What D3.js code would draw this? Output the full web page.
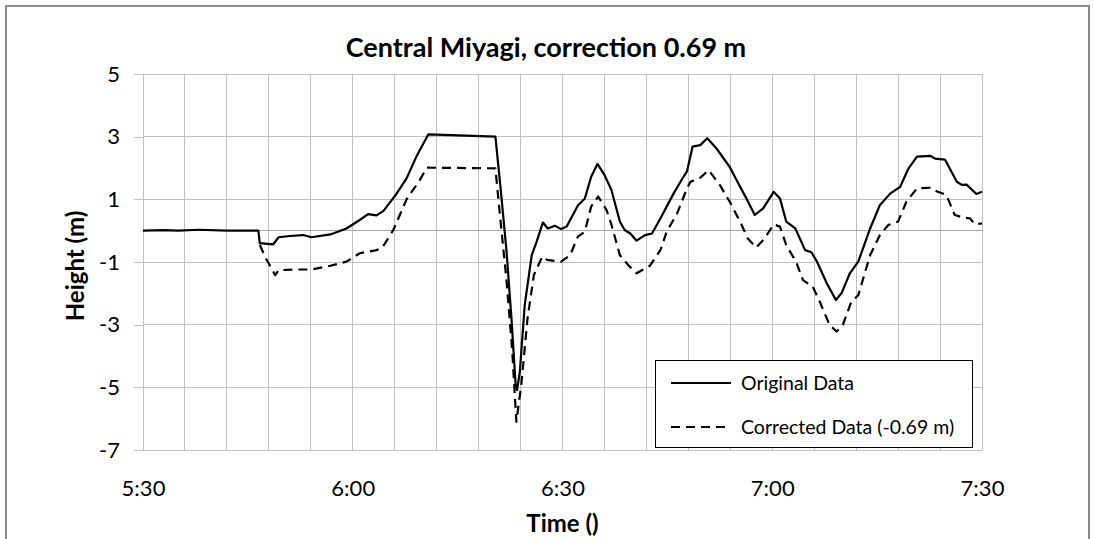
<!DOCTYPE html>
<html>
<head>
<meta charset="utf-8">
<script src="https://cdn.jsdelivr.net/npm/d3@7"></script>
<style>
  html, body { margin: 0; padding: 0; background: #fff; }
  svg { display: block; }
  text { font-family: Lato, "Open Sans", sans-serif; fill: #000; }
</style>
</head>
<body>
<svg id="chart" width="1094" height="539"></svg>
<script>
// ---- data (minutes after 5:30, height in m) ----
const chartTitle = "Central Miyagi, correction 0.69 m";
const xTitle = "Time ()";
const yTitle = "Height (m)";
const seriesNames = ["Original Data", "Corrected Data (-0.69 m)"];

const xTickMinutes = [0, 30, 60, 90, 120];
const xTickLabels = ["5:30", "6:00", "6:30", "7:00", "7:30"];
const yTickValues = [5, 3, 1, -1, -3, -5, -7];

const originalMinutes = [0, 3, 5, 8, 12, 16.5, 16.7, 18.6, 19.4, 21, 22.9, 24.1, 26.8, 29.1, 31.0, 32.2, 33.4, 34.4, 36.2, 37.7, 39.2, 40.8,
  50.4, 51.1, 52.0, 52.7, 53.3, 53.5, 53.9, 54.6, 55.6, 56.3, 57.2, 57.9, 58.9, 59.8, 60.6, 62.2, 63.2, 64.1, 65.0, 66.0, 67.0, 68.2, 68.9,
  69.7, 70.6, 71.8, 72.8, 74.0, 75.9, 77.3, 77.8, 78.6, 79.7, 80.7, 82.0, 83.9, 85.4, 86.3, 87.5, 88.7, 90.2, 91.1, 92.0, 93.3, 94.7,
  95.6, 96.4, 97.8, 99.1, 99.9, 101.1, 102.3, 104.0, 105.4, 106.9, 108.3, 109.5, 110.7, 112.6, 113.3, 114.7, 116.4, 117.1, 117.8, 119.2, 120];
const originalHeight = [0, 0.02, 0.0, 0.03, 0.0, 0.0, -0.40, -0.44, -0.21, -0.17, -0.14, -0.21, -0.12, 0.07, 0.34, 0.53, 0.49, 0.63, 1.16, 1.67, 2.41, 3.07,
  3.00, 1.46, -0.67, -2.8, -4.93, -5.09, -4.5, -2.37, -0.78, -0.35, 0.26, 0.07, 0.16, 0.05, 0.13, 0.80, 1.03, 1.72, 2.13, 1.78, 1.30, 0.29, 0.02,
  -0.09, -0.32, -0.14, -0.09, 0.39, 1.19, 1.72, 1.89, 2.68, 2.73, 2.95, 2.63, 2.04, 1.40, 1.03, 0.50, 0.71, 1.24, 1.03, 0.29, 0.07, -0.62,
  -0.69, -0.99, -1.68, -2.21, -2.0, -1.36, -0.99, 0.07, 0.82, 1.19, 1.40, 1.99, 2.36, 2.39, 2.30, 2.27, 1.56, 1.46, 1.47, 1.17, 1.24];

const correctedMinutes = [16.7, 17.5, 18.9, 19.4, 22.0, 24.1, 26.8, 29.1, 31.0, 33.4, 34.2, 35.8, 37.7, 39.6, 40.6, 50.4, 51.1, 52.0, 52.8,
  53.4, 54.1, 55.0, 55.9, 57.1, 57.8, 59.8, 61.1, 62.2, 63.2, 64.1, 65.1, 66.3, 67.0, 68.2, 69.4, 70.6, 72.5, 74.0, 74.9, 76.4, 77.8, 78.3,
  79.7, 80.9, 82.5, 83.9, 85.4, 86.5, 87.7, 88.9, 90.2, 91.1, 92.0, 93.4, 94.4, 95.8, 96.8, 98.2, 99.2, 100.1, 101.3, 102.3, 104.0, 105.4,
  106.6, 108.0, 109.2, 110.7, 112.6, 113.5, 114.9, 116.1, 117.3, 118.3, 119.0, 120];
const correctedHeight = [-0.45, -0.85, -1.42, -1.26, -1.24, -1.24, -1.12, -0.99, -0.72, -0.62, -0.55, 0.02, 1.0, 1.62, 2.01, 1.99, 0.39, -1.6, -3.8,
  -6.1, -4.93, -2.8, -1.42, -0.83, -0.93, -0.99, -0.78, -0.19, -0.03, 0.77, 1.09, 0.66, 0.19, -0.78, -1.10, -1.36, -1.12, -0.62, -0.03, 0.55, 1.35, 1.56,
  1.69, 1.93, 1.46, 0.93, 0.29, -0.25, -0.54, -0.25, 0.20, 0.13, -0.46, -0.99, -1.58, -1.79, -2.27, -3.01, -3.22, -3.01, -2.27, -2.06, -0.78, -0.14,
  0.18, 0.29, 0.93, 1.35, 1.37, 1.26, 1.14, 0.50, 0.42, 0.39, 0.20, 0.23];

// ---- layout ----
const svg = d3.select("#chart");
const plot = { left: 143, right: 982, top: 74, bottom: 450 };
const gridColor = "#c0c0c0";

const x = d3.scaleLinear().domain([0, 120]).range([plot.left, plot.right]);
const y = d3.scaleLinear().domain([-7, 5]).range([plot.bottom, plot.top]);

// outer chart frame
svg.append("rect").attr("x", 6).attr("y", 6).attr("width", 1083).attr("height", 560)
  .attr("fill", "none").attr("stroke", "#8c8c8c").attr("stroke-width", 2);

// vertical gridlines every 6 min
const xGrid = d3.range(0, 121, 6);
svg.append("g").selectAll("line").data(xGrid).join("line")
  .attr("x1", d => x(d)).attr("x2", d => x(d))
  .attr("y1", plot.top).attr("y2", plot.bottom)
  .attr("stroke", gridColor).attr("stroke-width", 1).attr("shape-rendering", "crispEdges");

// horizontal gridlines + y axis
const yAxis = d3.axisLeft(y).tickValues(yTickValues).tickSize(9).tickPadding(14).tickFormat(d => String(d));
const gy = svg.append("g").attr("transform", `translate(${plot.left},0)`).call(yAxis);
gy.select(".domain").attr("stroke", gridColor).attr("shape-rendering", "crispEdges");
gy.selectAll(".tick line").attr("stroke", gridColor).attr("shape-rendering", "crispEdges");
gy.selectAll(".tick text").style("font-size", "22px").style("font-family", "Lato, sans-serif");
svg.append("g").selectAll("line").data(yTickValues).join("line")
  .attr("x1", plot.left).attr("x2", plot.right)
  .attr("y1", d => y(d)).attr("y2", d => y(d))
  .attr("stroke", gridColor).attr("stroke-width", 1).attr("shape-rendering", "crispEdges");

// horizontal axis line at 0
svg.append("line").attr("x1", plot.left).attr("x2", plot.right)
  .attr("y1", y(0)).attr("y2", y(0)).attr("stroke", "#a6a6a6").attr("shape-rendering", "crispEdges");

// x tick labels (low position)
const xAxis = d3.axisBottom(x).tickValues(xTickMinutes).tickSize(0).tickPadding(30)
  .tickFormat((d, i) => xTickLabels[i]);
const gx = svg.append("g").attr("transform", `translate(0,${plot.bottom})`).call(xAxis);
gx.select(".domain").remove();
gx.selectAll(".tick text").style("font-size", "22px").style("font-family", "Lato, sans-serif");

// lines
const line = d3.line().x(d => x(d[0])).y(d => y(d[1]));
const origData = originalMinutes.map((m, i) => [m, originalHeight[i]]);
const corrData = correctedMinutes.map((m, i) => [m, correctedHeight[i]]);

svg.append("path").datum(corrData).attr("d", line)
  .attr("fill", "none").attr("stroke", "#000").attr("stroke-width", 2.2)
  .attr("stroke-dasharray", "9,6").attr("stroke-linejoin", "round");
svg.append("path").datum(origData).attr("d", line)
  .attr("fill", "none").attr("stroke", "#000").attr("stroke-width", 2.2).attr("stroke-linejoin", "round");

// titles
svg.append("text").attr("x", 546).attr("y", 57).attr("text-anchor", "middle")
  .style("font-size", "27px").style("font-weight", "bold").text(chartTitle);
svg.append("text").attr("x", (plot.left + plot.right) / 2).attr("y", 532).attr("text-anchor", "middle")
  .style("font-size", "24px").style("font-weight", "bold").text(xTitle);
svg.append("text").attr("transform", `translate(84,${(plot.top + plot.bottom) / 2 + 4}) rotate(-90)`)
  .attr("text-anchor", "middle").style("font-size", "24px").style("font-weight", "bold").text(yTitle);

// legend
const lg = svg.append("g");
lg.append("rect").attr("x", 655.5).attr("y", 360.5).attr("width", 317).attr("height", 87)
  .attr("fill", "#fff").attr("stroke", "#000").attr("stroke-width", 1);
const legendRows = [{ y: 383, dash: null }, { y: 427, dash: "9,6" }];
legendRows.forEach((r, i) => {
  lg.append("line").attr("x1", 671).attr("x2", 731).attr("y1", r.y).attr("y2", r.y)
    .attr("stroke", "#000").attr("stroke-width", 2.2).attr("stroke-dasharray", r.dash);
  lg.append("text").attr("x", 741).attr("y", r.y).attr("dy", "0.35em")
    .style("font-size", "19.5px").text(seriesNames[i]);
});
</script>
</body>
</html>
